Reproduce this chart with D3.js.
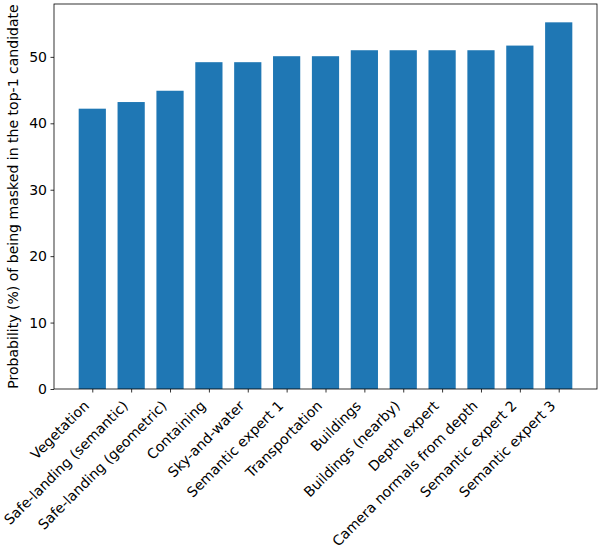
<!DOCTYPE html>
<html>
<head>
<meta charset="utf-8">
<script src="https://cdn.jsdelivr.net/npm/d3@7"></script>
<style>
  html, body { margin: 0; padding: 0; background: #fff; }
  svg { display: block; }
  text { font-family: "DejaVu Sans", sans-serif; fill: #000; }
</style>
</head>
<body>
<script>
const categories = [
  "Vegetation", "Safe-landing (semantic)", "Safe-landing (geometric)", "Containing",
  "Sky-and-water", "Semantic expert 1", "Transportation", "Buildings",
  "Buildings (nearby)", "Depth expert", "Camera normals from depth",
  "Semantic expert 2", "Semantic expert 3"
];
const values = [42.2, 43.2, 44.9, 49.2, 49.2, 50.1, 50.1, 51.0, 51.0, 51.0, 51.0, 51.7, 55.2];
const yTicks = [0, 10, 20, 30, 40, 50];
const yLabel = "Probability (%) of being masked in the top-1 candidate";

const W = 602, H = 551;
const mLeft = 54, mRight = 597, mTop = 4, mBottom = 389;
const fs = 14.05;

const svg = d3.select("body").append("svg").attr("width", W).attr("height", H);

const n = categories.length;
const barW = 0.7;
const span = (n - 1) + barW;
const xmin = -barW / 2 - 0.05 * span, xmax = (n - 1) + barW / 2 + 0.05 * span;
const x = d3.scaleLinear().domain([xmin, xmax]).range([mLeft, mRight]);
const ymax = d3.max(values) * 1.05;
const y = d3.scaleLinear().domain([0, ymax]).range([mBottom, mTop]);

svg.append("g").selectAll("rect").data(values).join("rect")
  .attr("x", (d, i) => x(i - barW / 2))
  .attr("width", (d, i) => x(i + barW / 2) - x(i - barW / 2))
  .attr("y", d => y(d))
  .attr("height", d => y(0) - y(d))
  .attr("fill", "#1f77b4");

// Y axis
const yAxis = d3.axisLeft(y).tickValues(yTicks).tickSize(3.5).tickPadding(3.5).tickFormat(d3.format("d"));
const gy = svg.append("g").attr("transform", `translate(${mLeft},0)`).call(yAxis);
gy.select(".domain").remove();
gy.selectAll(".tick line").attr("stroke", "#000").attr("stroke-width", 0.8);
gy.selectAll(".tick text").attr("font-size", fs).attr("font-family", "DejaVu Sans").attr("fill", "#000");

// X axis
const xAxis = d3.axisBottom(x).tickValues(d3.range(n)).tickSize(3.5).tickFormat("");
const gx = svg.append("g").attr("transform", `translate(0,${mBottom})`).call(xAxis);
gx.select(".domain").remove();
gx.selectAll(".tick line").attr("stroke", "#000").attr("stroke-width", 0.8);

// rotated x labels
const lblTop = mBottom + 3.5 + 3.5;
const asc = fs * 0.93, desc = fs * 0.236;
svg.append("g").selectAll("text").data(categories).join("text")
  .attr("transform", (d, i) => {
    const bx = x(i) - 0.7071 * desc;
    const by = lblTop + 0.7071 * asc + 1.5;
    return `translate(${bx},${by}) rotate(-45)`;
  })
  .attr("text-anchor", "end")
  .attr("font-size", fs)
  .text(d => d);

// spines
svg.append("rect")
  .attr("x", mLeft).attr("y", mTop)
  .attr("width", mRight - mLeft).attr("height", mBottom - mTop)
  .attr("fill", "none").attr("stroke", "#000").attr("stroke-width", 0.8);

// y label
svg.append("text")
  .attr("transform", `translate(18,${(mTop + mBottom) / 2}) rotate(-90)`)
  .attr("text-anchor", "middle")
  .attr("font-size", fs)
  .text(yLabel);
</script>
</body>
</html>
